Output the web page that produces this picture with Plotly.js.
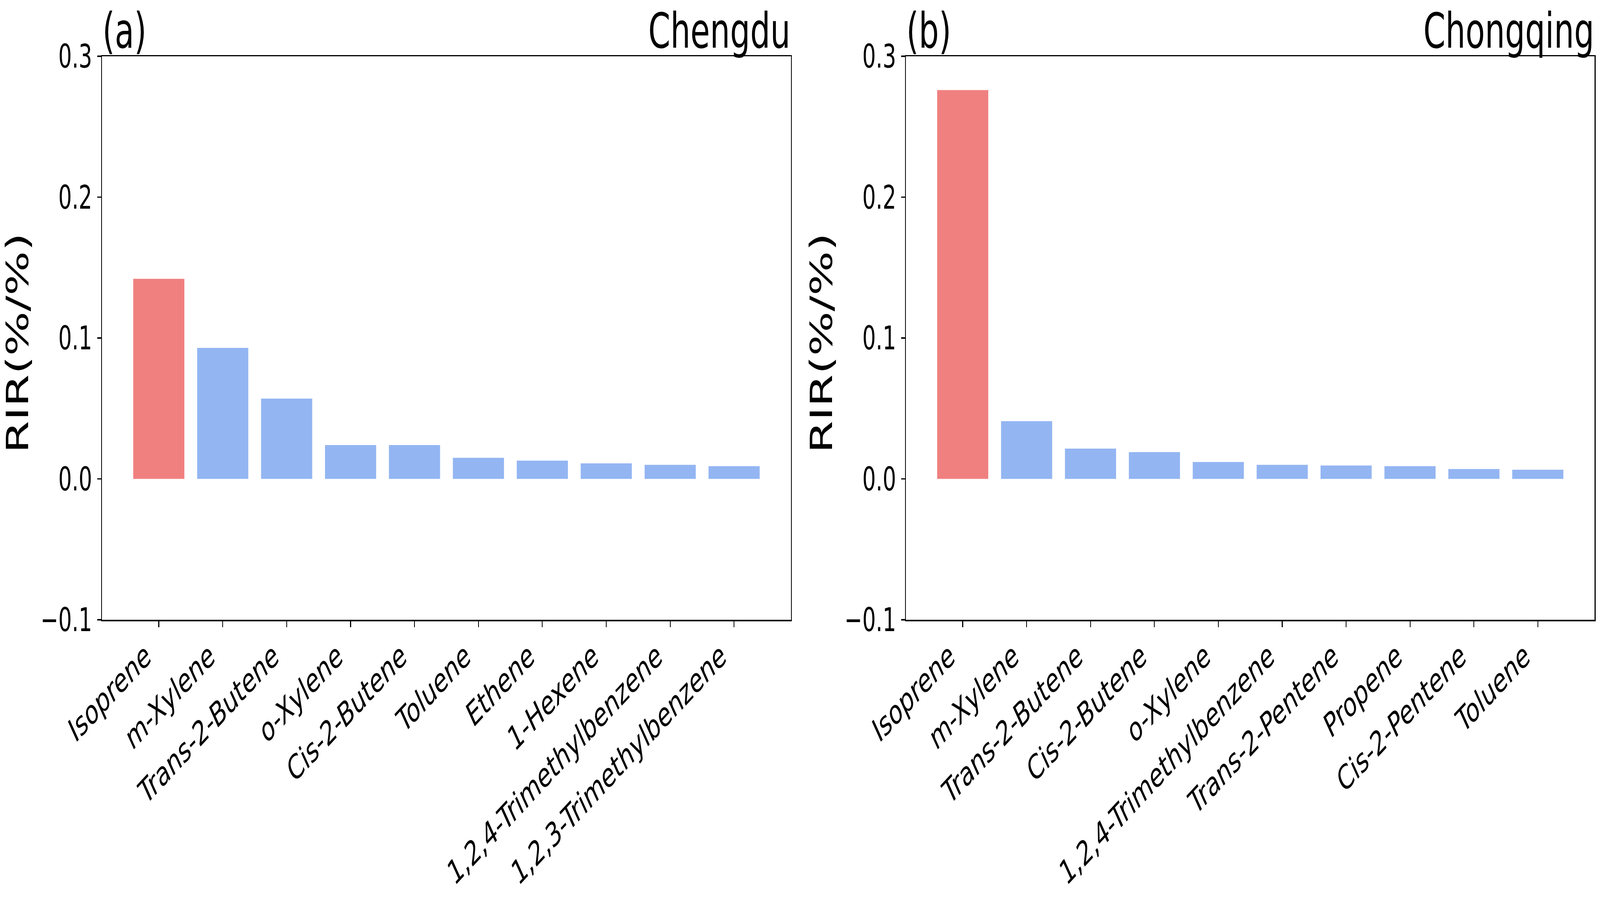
<!DOCTYPE html>
<html>
<head>
<meta charset="utf-8">
<script src="https://cdn.plot.ly/plotly-3.0.1.min.js"></script>
<style>html,body{margin:0;padding:0;background:#fff;overflow:hidden;}#chart{width:6311px;height:2298px;transform-origin:0 0;}</style>
</head>
<body>
<div id="chart"></div>
<script>
// ---- data ----
const chengduSpecies = ["Isoprene","m-Xylene","Trans-2-Butene","o-Xylene","Cis-2-Butene","Toluene","Ethene","1-Hexene","1,2,4-Trimethylbenzene","1,2,3-Trimethylbenzene"];
const chengduRIR = [0.142, 0.093, 0.057, 0.024, 0.024, 0.015, 0.013, 0.011, 0.010, 0.009];
const chongqingSpecies = ["Isoprene","m-Xylene","Trans-2-Butene","Cis-2-Butene","o-Xylene","1,2,4-Trimethylbenzene","Trans-2-Pentene","Propene","Cis-2-Pentene","Toluene"];
const chongqingRIR = [0.276, 0.041, 0.0215, 0.019, 0.012, 0.010, 0.0095, 0.009, 0.007, 0.0065];
const yTicks = [-0.1, 0.0, 0.1, 0.2, 0.3];
const panelLabels = ["(a)", "(b)"];
const cityNames = ["Chengdu", "Chongqing"];
const yLabel = "RIR(%/%)";

// ---- style ----
const FONT = "DejaVu Sans";
const RED = "#F08080";
const BLUE = "#93B5F2";
const W = 6311, H = 2298;
const px = v => v / W;
const py = v => 1 - v / H;
const colorsFor = arr => arr.map((_, i) => i === 0 ? RED : BLUE);

// the figure is laid out at 6311x2298; fit it into the actual viewport
(function fit() {
  const vw = window.innerWidth || W, vh = window.innerHeight || H;
  document.getElementById("chart").style.transform = "scale(" + (vw / W) + "," + (vh / H) + ")";
})();

const traces = [
  {type: "bar", x: chengduSpecies, y: chengduRIR, width: 0.8, marker: {color: colorsFor(chengduRIR), line: {width: 0}}, xaxis: "x", yaxis: "y", showlegend: false, hoverinfo: "x+y"},
  {type: "bar", x: chongqingSpecies, y: chongqingRIR, width: 0.8, marker: {color: colorsFor(chongqingRIR), line: {width: 0}}, xaxis: "x2", yaxis: "y2", showlegend: false, hoverinfo: "x+y"}
];

const xCommon = {
  type: "category", range: [-0.89, 9.89], autorange: false,
  showline: true, linecolor: "#000", linewidth: 3.5, mirror: true,
  ticks: "outside", ticklen: 15, tickwidth: 3.3, tickcolor: "#000",
  tickangle: -35, tickfont: {family: FONT, size: 86, color: "#000"},
  ticklabelstandoff: -10, ticklabelshift: -50,
  showgrid: false, zeroline: false, automargin: false, fixedrange: true
};
const yCommon = {
  range: [-0.1, 0.3], autorange: false,
  tickmode: "array", tickvals: yTicks, tickformat: ".1f",
  showline: true, linecolor: "#000", linewidth: 3.5, mirror: true,
  ticks: "outside", ticklen: 15, tickwidth: 3.3, tickcolor: "#000",
  tickfont: {family: FONT, size: 84, color: "#000"},
  ticklabelstandoff: 3,
  showgrid: false, zeroline: false, automargin: false, fixedrange: true
};

const leftDom = [px(402), px(3120)];
const rightDom = [px(3573), px(6290)];
const yDom = [py(1586), py(144)];

const annotations = [];
[[leftDom, 0], [rightDom, 1]].forEach(([dom, i]) => {
  annotations.push({xref: "paper", yref: "paper", x: dom[0], y: yDom[1], xanchor: "left", yanchor: "bottom", yshift: -9,
    text: panelLabels[i], showarrow: false, font: {family: FONT, size: 125, color: "#000"}});
  annotations.push({xref: "paper", yref: "paper", x: dom[1], y: yDom[1], xanchor: "right", yanchor: "bottom", yshift: -9,
    text: cityNames[i], showarrow: false, font: {family: FONT, size: 125, color: "#000"}});
  annotations.push({xref: "paper", yref: "paper", x: dom[0] - px(333), y: py(878), xanchor: "center", yanchor: "middle",
    text: yLabel, textangle: -90, showarrow: false, font: {family: FONT, size: 120, color: "#000"}});
});

const layout = {
  width: W, height: H,
  margin: {l: 0, r: 0, t: 0, b: 0, pad: 0},
  paper_bgcolor: "#fff", plot_bgcolor: "#fff",
  bargap: 0.2,
  xaxis: Object.assign({}, xCommon, {domain: leftDom, anchor: "y"}),
  yaxis: Object.assign({}, yCommon, {domain: yDom, anchor: "x"}),
  xaxis2: Object.assign({}, xCommon, {domain: rightDom, anchor: "y2"}),
  yaxis2: Object.assign({}, yCommon, {domain: yDom, anchor: "x2"}),
  annotations: annotations,
  showlegend: false
};

Plotly.newPlot("chart", traces, layout, {displayModeBar: false, staticPlot: true});
</script>
</body>
</html>
